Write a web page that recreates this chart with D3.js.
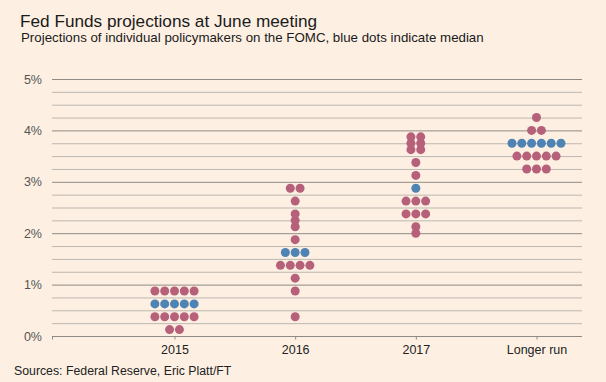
<!DOCTYPE html>
<html>
<head>
<meta charset="utf-8">
<script src="https://cdn.jsdelivr.net/npm/d3@7"></script>
<style>
  html, body { margin: 0; padding: 0; background: #fdf0e3; }
  svg { display: block; }
  text { font-family: "Liberation Sans Narrow", "Liberation Sans", Arial, sans-serif; }
</style>
</head>
<body>
<svg id="chart" width="606" height="382"></svg>
<script>
// ---- data ----
const categories = ["2015", "2016", "2017", "Longer run"];
const proj2015 = [0.125, 0.125, 0.375, 0.375, 0.375, 0.375, 0.375, 0.625, 0.625, 0.625, 0.625, 0.625, 0.875, 0.875, 0.875, 0.875, 0.875];
const proj2016 = [0.375, 0.875, 1.125, 1.375, 1.375, 1.375, 1.375, 1.625, 1.625, 1.625, 1.875, 2.125, 2.25, 2.375, 2.625, 2.875, 2.875];
const proj2017 = [2.0, 2.125, 2.375, 2.375, 2.375, 2.625, 2.625, 2.625, 2.875, 3.125, 3.375, 3.625, 3.625, 3.75, 3.75, 3.875, 3.875];
const projLonger = [3.25, 3.25, 3.25, 3.5, 3.5, 3.5, 3.5, 3.5, 3.75, 3.75, 3.75, 3.75, 3.75, 3.75, 4.0, 4.0, 4.25];
const medians = [0.625, 1.625, 2.875, 3.75];
const yTicks = [0, 1, 2, 3, 4, 5];
const minorTicks = [0.25, 0.5, 0.75, 1.25, 1.5, 1.75, 2.25, 2.5, 2.75, 3.25, 3.5, 3.75, 4.25, 4.5, 4.75];

const series = [proj2015, proj2016, proj2017, projLonger];

const svg = d3.select("#chart");
const W = 606, H = 382;
svg.append("rect").attr("width", W).attr("height", H).attr("fill", "#fdf0e3");

const mLeft = 52, mRight = 582, mTop = 79, mBottom = 336;

const y = d3.scaleLinear().domain([0, 5]).range([mBottom, mTop]);
const x = d3.scalePoint().domain(categories).range([174.5, 536.5]);

// minor gridlines
svg.append("g").selectAll("line").data(minorTicks).join("line")
  .attr("x1", mLeft).attr("x2", mRight)
  .attr("y1", d => y(d) + 0.5).attr("y2", d => y(d) + 0.5)
  .attr("stroke", "#bdb7b0").attr("stroke-width", 1);

// major gridlines
svg.append("g").selectAll("line").data(yTicks).join("line")
  .attr("x1", mLeft).attr("x2", mRight)
  .attr("y1", d => y(d) + 0.5).attr("y2", d => y(d) + 0.5)
  .attr("stroke", "#8f8a84").attr("stroke-width", 1);

// y labels
svg.append("g").selectAll("text").data(yTicks).join("text")
  .attr("x", 42).attr("y", d => y(d) + 4.5)
  .attr("text-anchor", "end")
  .attr("font-size", 12.5).attr("fill", "#555")
  .text(d => d + "%");

// x axis
const xAxis = d3.axisBottom(x).tickSize(3).tickSizeOuter(0).tickPadding(6);
const gx = svg.append("g").attr("transform", `translate(0,${mBottom + 0.5})`).call(xAxis);
gx.select(".domain").remove();
gx.selectAll(".tick line").attr("stroke", "#8f8a84");
gx.selectAll(".tick text").attr("font-size", 12.5).attr("fill", "#222")
  .attr("font-family", '"Liberation Sans Narrow", "Liberation Sans", Arial, sans-serif');
svg.append("line").attr("x1", mLeft + 0.5).attr("x2", mLeft + 0.5)
  .attr("y1", mBottom).attr("y2", mBottom + 3.5).attr("stroke", "#8f8a84");

// dots
const spacing = 9.8, r = 4.5;
const dots = [];
series.forEach((vals, ci) => {
  const groups = d3.rollups(vals, v => v.length, d => d);
  groups.forEach(([val, n]) => {
    for (let i = 0; i < n; i++) {
      dots.push({ cat: categories[ci], val, offset: (i - (n - 1) / 2) * spacing, median: val === medians[ci] });
    }
  });
});
svg.append("g").selectAll("circle").data(dots).join("circle")
  .attr("cx", d => x(d.cat) + d.offset)
  .attr("cy", d => y(d.val))
  .attr("r", r)
  .attr("fill", d => d.median ? "#4e83b4" : "#b6607a");

// titles
svg.append("text").attr("x", 20).attr("y", 27)
  .attr("font-size", 17.2).attr("fill", "#1a1a1a")
  .text("Fed Funds projections at June meeting");
svg.append("text").attr("x", 21).attr("y", 42)
  .attr("font-size", 13.3).attr("fill", "#1a1a1a")
  .text("Projections of individual policymakers on the FOMC, blue dots indicate median");
svg.append("text").attr("x", 14).attr("y", 375)
  .attr("font-size", 12.3).attr("fill", "#222")
  .text("Sources: Federal Reserve, Eric Platt/FT");
</script>
</body>
</html>
